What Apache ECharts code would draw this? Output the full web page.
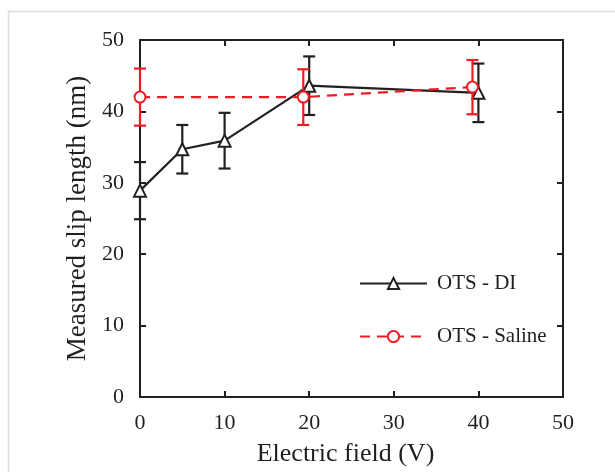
<!DOCTYPE html>
<html>
<head>
<meta charset="utf-8">
<script src="https://cdn.jsdelivr.net/npm/echarts@6/dist/echarts.min.js"></script>
<style>
html,body{margin:0;padding:0;background:#fff;}
#c{width:615px;height:472px;}
</style>
</head>
<body>
<div id="c"></div>
<script>
const xTicks = [0, 10, 20, 30, 40, 50];
const yTicks = [0, 10, 20, 30, 40, 50];
const diX = [0, 5, 10, 20, 40];
const diY = [28.9, 34.7, 35.9, 43.6, 42.6];
const diErr = [4.0, 3.4, 3.9, 4.1, 4.1];
const salineX = [0, 19.3, 39.3];
const salineY = [42.0, 42.0, 43.4];
const salineErr = [4.0, 3.9, 3.8];
const seriesNames = ['OTS - DI', 'OTS - Saline'];

const BLACK = '#231f20';
const RED = '#ec1c24';
const FONT = 'Liberation Serif';

function pts(xs, ys) { return xs.map((x, i) => [x, ys[i]]); }
function errs(xs, ys, es) { return xs.map((x, i) => [x, ys[i] - es[i], ys[i] + es[i]]); }

function errRender(color) {
  return function (params, api) {
    const x = api.value(0);
    const lo = api.coord([x, api.value(1)]);
    const hi = api.coord([x, api.value(2)]);
    const w = 6;
    const st = { stroke: color, lineWidth: 2.2 };
    return {
      type: 'group',
      children: [
        { type: 'line', shape: { x1: lo[0], y1: lo[1], x2: hi[0], y2: hi[1] }, style: st },
        { type: 'line', shape: { x1: hi[0] - w, y1: hi[1], x2: hi[0] + w, y2: hi[1] }, style: st },
        { type: 'line', shape: { x1: lo[0] - w, y1: lo[1], x2: lo[0] + w, y2: lo[1] }, style: st }
      ]
    };
  };
}

const chart = echarts.init(document.getElementById('c'), null, { renderer: 'canvas' });

const axisCommon = {
  min: 0, max: 50, interval: 10,
  axisLine: { show: true, onZero: false, lineStyle: { color: BLACK, width: 2 } },
  axisTick: { show: true, inside: true, length: 6, lineStyle: { color: BLACK, width: 2 } },
  splitLine: { show: false }
};

chart.setOption({
  animation: false,
  backgroundColor: '#fff',
  textStyle: { fontFamily: FONT },
  graphic: [{
    type: 'rect', left: 6, top: 9,
    shape: { width: 640, height: 500 },
    style: { fill: 'none', stroke: '#dcdcdc', lineWidth: 1.5 },
    silent: true, z: -10
  }],
  grid: { left: 140, right: 52, top: 40, bottom: 73 },
  legend: {
    data: seriesNames,
    orient: 'vertical',
    left: 354, top: 268,
    itemWidth: 67, itemHeight: 14,
    itemGap: 32,
    textStyle: { fontFamily: FONT, fontSize: 21, color: BLACK, padding: [0, 0, 0, 5] }
  },
  xAxis: [
    Object.assign({}, axisCommon, {
      type: 'value', position: 'bottom',
      name: 'Electric field (V)', nameLocation: 'middle', nameGap: 44,
      nameTextStyle: { fontFamily: FONT, fontSize: 26, color: BLACK, padding: [0, 12, 0, 0] },
      axisLabel: { margin: 15, fontFamily: FONT, fontSize: 22, color: BLACK,
        formatter: v => xTicks.includes(v) ? String(v) : '' }
    }),
    Object.assign({}, axisCommon, {
      type: 'value', position: 'top', axisLabel: { show: false }
    })
  ],
  yAxis: [
    Object.assign({}, axisCommon, {
      type: 'value', position: 'left',
      name: 'Measured slip length (nm)', nameLocation: 'middle', nameGap: 48,
      nameTextStyle: { fontFamily: FONT, fontSize: 27, color: BLACK },
      axisLabel: { margin: 16, fontFamily: FONT, fontSize: 22, color: BLACK,
        formatter: v => yTicks.includes(v) ? String(v) : '' }
    }),
    Object.assign({}, axisCommon, {
      type: 'value', position: 'right', axisLabel: { show: false }
    })
  ],
  series: [
    {
      type: 'custom', name: 'diErr', xAxisIndex: 0, yAxisIndex: 0,
      renderItem: errRender(BLACK), data: errs(diX, diY, diErr), z: 3, silent: true
    },
    {
      type: 'line', name: seriesNames[0], data: pts(diX, diY),
      symbol: 'emptyTriangle', symbolSize: 12,
      lineStyle: { color: BLACK, width: 2.2 },
      itemStyle: { color: BLACK, borderColor: BLACK, borderWidth: 2.2 },
      z: 4
    },
    {
      type: 'custom', name: 'salErr', xAxisIndex: 0, yAxisIndex: 0,
      renderItem: errRender(RED), data: errs(salineX, salineY, salineErr), z: 5, silent: true
    },
    {
      type: 'line', name: seriesNames[1], data: pts(salineX, salineY),
      symbol: 'emptyCircle', symbolSize: 11,
      lineStyle: { color: RED, width: 2.2, type: [10, 7] },
      itemStyle: { color: RED, borderColor: RED, borderWidth: 2.2 },
      z: 6
    }
  ]
});
</script>
</body>
</html>
